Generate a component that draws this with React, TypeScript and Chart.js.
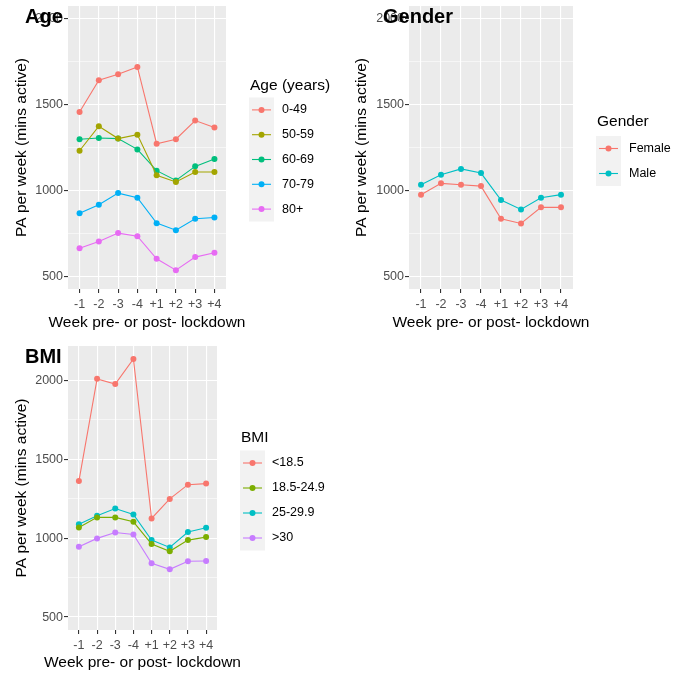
import React, { useEffect, useRef } from 'react';
import { Chart, registerables } from 'chart.js';

Chart.register(...registerables);

const FONT = "'Liberation Sans', Arial, Helvetica, sans-serif";

const weeks = ['-1', '-2', '-3', '-4', '+1', '+2', '+3', '+4'];
const yTickValues = [500, 750, 1000, 1250, 1500, 1750, 2000];
const xAxisTitle = 'Week pre- or post- lockdown';
const yAxisTitle = 'PA per week (mins active)';

const ageGroups = ['0-49', '50-59', '60-69', '70-79', '80+'];
const age0to49 = [1457, 1642, 1677, 1720, 1272, 1298, 1407, 1366];
const age50to59 = [1231, 1374, 1302, 1325, 1088, 1049, 1107, 1107];
const age60to69 = [1298, 1305, 1302, 1239, 1115, 1058, 1140, 1183];
const age70to79 = [866, 916, 984, 957, 809, 768, 835, 842];
const age80plus = [663, 702, 751, 733, 601, 535, 611, 636];
const ageColors = ['#F8766D', '#A3A500', '#00BF7D', '#00B0F6', '#E76BF3'];

const genderGroups = ['Female', 'Male'];
const female = [975, 1041, 1033, 1025, 835, 807, 901, 901];
const male = [1033, 1091, 1125, 1101, 944, 889, 957, 975];
const genderColors = ['#F8766D', '#00BFC4'];

const bmiGroups = ['<18.5', '18.5-24.9', '25-29.9', '>30'];
const bmiUnder18 = [1361, 2008, 1975, 2134, 1124, 1248, 1338, 1345];
const bmi18to25 = [1067, 1131, 1131, 1103, 962, 916, 987, 1006];
const bmi25to30 = [1088, 1141, 1187, 1149, 987, 941, 1038, 1065];
const bmiOver30 = [945, 998, 1035, 1023, 840, 802, 853, 855];
const bmiColors = ['#F8766D', '#7CAE00', '#00BFC4', '#C77CFF'];

type Panel = {
  title: string;
  legendTitle: string;
  groups: string[];
  series: number[][];
  colors: string[];
  canvas: { left: number; top: number; w: number; h: number };
  area: { l: number; t: number; r: number; b: number };
  yMin: number;
  yMax: number;
  titleX: number;
  titleY: number;
  legTitleX: number;
  legTitleY: number;
  keyX: number;
  keyW: number;
  keyTop: number;
  keyH: number;
  labelX: number;
  xTitleY: number;
  yTitleX: number;
};

const panels: Panel[] = [
  {
    title: 'Age', legendTitle: 'Age (years)', groups: ageGroups,
    series: [age0to49, age50to59, age60to69, age70to79, age80plus], colors: ageColors,
    canvas: { left: 0, top: 0, w: 340, h: 337 }, area: { l: 68, t: 6, r: 226, b: 289 },
    yMin: 425, yMax: 2075, titleX: 25, titleY: 23,
    legTitleX: 250, legTitleY: 86, keyX: 249, keyW: 25, keyTop: 97.5, keyH: 24.8, labelX: 282,
    xTitleY: 323, yTitleX: 22,
  },
  {
    title: 'Gender', legendTitle: 'Gender', groups: genderGroups,
    series: [female, male], colors: genderColors,
    canvas: { left: 340, top: 0, w: 347, h: 337 }, area: { l: 409, t: 6, r: 573, b: 289 },
    yMin: 425, yMax: 2075, titleX: 383, titleY: 23,
    legTitleX: 597, legTitleY: 122, keyX: 596, keyW: 25, keyTop: 136, keyH: 25, labelX: 629,
    xTitleY: 323, yTitleX: 362,
  },
  {
    title: 'BMI', legendTitle: 'BMI', groups: bmiGroups,
    series: [bmiUnder18, bmi18to25, bmi25to30, bmiOver30], colors: bmiColors,
    canvas: { left: 0, top: 337, w: 340, h: 337 }, area: { l: 68, t: 346, r: 217, b: 630 },
    yMin: 418, yMax: 2216, titleX: 25, titleY: 363,
    legTitleX: 241, legTitleY: 438, keyX: 240, keyW: 25, keyTop: 450.5, keyH: 25, labelX: 272,
    xTitleY: 663, yTitleX: 22,
  },
];

function PanelChart({ p }: { p: Panel }) {
  const ref = useRef<HTMLCanvasElement | null>(null);
  useEffect(() => {
    const canvas = ref.current;
    if (!canvas) return;
    const c = p.canvas;
    const yAxisW = p.area.l - c.left;
    const xAxisH = c.top + c.h - p.area.b;
    const padTop = p.area.t - c.top;
    const padRight = c.left + c.w - p.area.r;
    const titleFont = 15.5;
    const half = (titleFont * 1.2) / 2;

    const deco = {
      id: 'ggDeco',
      beforeDraw(chart: any) {
        const { ctx, chartArea } = chart;
        ctx.save();
        ctx.fillStyle = '#EBEBEB';
        ctx.fillRect(chartArea.left, chartArea.top, chartArea.right - chartArea.left, chartArea.bottom - chartArea.top);
        ctx.restore();
      },
      afterDraw(chart: any) {
        const ctx = chart.ctx;
        const ca = chart.chartArea;
        ctx.save();
        // x axis title
        ctx.fillStyle = '#000000';
        ctx.font = `${titleFont}px ${FONT}`;
        ctx.textBaseline = 'middle';
        ctx.textAlign = 'center';
        ctx.fillText(xAxisTitle, (ca.left + ca.right) / 2, p.xTitleY - c.top);
        // legend
        ctx.textAlign = 'left';
        ctx.fillText(p.legendTitle, p.legTitleX - c.left, p.legTitleY - c.top);
        const kx = p.keyX - c.left;
        const ky = p.keyTop - c.top;
        ctx.fillStyle = '#F2F2F2';
        ctx.fillRect(kx, ky, p.keyW, p.keyH * p.groups.length);
        p.groups.forEach((g, i) => {
          const cy = ky + p.keyH * (i + 0.5);
          const col = p.colors[i];
          ctx.strokeStyle = col;
          ctx.lineWidth = 1.1;
          ctx.beginPath();
          ctx.moveTo(kx + 3, cy);
          ctx.lineTo(kx + p.keyW - 3, cy);
          ctx.stroke();
          ctx.fillStyle = col;
          ctx.beginPath();
          ctx.arc(kx + p.keyW / 2, cy, 3, 0, Math.PI * 2);
          ctx.fill();
          ctx.fillStyle = '#000000';
          ctx.font = `12.5px ${FONT}`;
          ctx.fillText(g, p.labelX - c.left, cy);
        });
        // panel title
        ctx.font = `bold 20px ${FONT}`;
        ctx.textBaseline = 'alphabetic';
        ctx.fillStyle = '#000000';
        ctx.fillText(p.title, p.titleX - c.left, p.titleY - c.top);
        ctx.restore();
      },
    };

    const chart = new Chart(canvas, {
      type: 'line',
      data: {
        datasets: p.series.map((s, i) => ({
          label: p.groups[i],
          data: s.map((v, j) => ({ x: j, y: v })),
          borderColor: p.colors[i],
          backgroundColor: p.colors[i],
          borderWidth: 1.1,
          pointRadius: 3,
          pointBorderWidth: 0,
          pointBackgroundColor: p.colors[i],
          tension: 0,
          fill: false,
        })),
      },
      options: {
        animation: false,
        responsive: false,
        maintainAspectRatio: false,
        devicePixelRatio: 1,
        layout: { padding: { left: 0, top: padTop, right: padRight, bottom: 0 } },
        plugins: { legend: { display: false }, tooltip: { enabled: false }, title: { display: false } },
        scales: {
          x: {
            type: 'linear',
            min: -0.6,
            max: 7.6,
            bounds: 'data',
            afterBuildTicks: (s: any) => {
              s.ticks = weeks.map((_, i) => ({ value: i }));
            },
            afterFit: (s: any) => {
              s.height = xAxisH;
              s.paddingLeft = 0;
              s.paddingRight = 0;
            },
            ticks: {
              autoSkip: false,
              maxRotation: 0,
              padding: 4,
              color: '#4D4D4D',
              font: { family: FONT, size: 12.5 },
              callback: (v: any) => weeks[v] ?? '',
            },
            grid: {
              color: '#FFFFFF',
              lineWidth: 1.1,
              tickColor: '#333333',
              tickLength: 4,
              tickWidth: 1.1,
            },
            border: { display: false },
            title: { display: false },
          },
          y: {
            type: 'linear',
            min: p.yMin,
            max: p.yMax,
            bounds: 'data',
            afterBuildTicks: (s: any) => {
              s.ticks = yTickValues.map((v) => ({ value: v }));
            },
            afterFit: (s: any) => {
              s.width = yAxisW;
              s.paddingTop = 0;
              s.paddingBottom = 0;
            },
            ticks: {
              autoSkip: false,
              padding: 1,
              color: '#4D4D4D',
              font: { family: FONT, size: 12.5 },
              callback: (v: any) => (Number(v) % 500 === 0 ? String(v) : ''),
            },
            grid: {
              color: '#FFFFFF',
              lineWidth: (ctx: any) => (ctx.tick && ctx.tick.value % 500 === 0 ? 1.1 : 0.55),
              tickColor: (ctx: any) => (ctx.tick && ctx.tick.value % 500 === 0 ? '#333333' : 'rgba(0,0,0,0)'),
              tickLength: 4,
              tickWidth: 1.1,
            },
            border: { display: false },
            title: {
              display: true,
              text: yAxisTitle,
              color: '#000000',
              font: { family: FONT, size: titleFont },
              padding: { top: p.yTitleX - c.left - half, bottom: 0 },
            },
          },
        },
      } as any,
      plugins: [deco],
    });
    return () => chart.destroy();
  }, [p]);

  return (
    <canvas
      ref={ref}
      width={p.canvas.w}
      height={p.canvas.h}
      style={{ position: 'absolute', left: p.canvas.left, top: p.canvas.top, width: p.canvas.w, height: p.canvas.h }}
    />
  );
}

export default function App() {
  return (
    <div style={{ position: 'fixed', left: 0, top: 0, width: 687, height: 674, background: '#FFFFFF' }}>
      {panels.map((p) => (
        <PanelChart key={p.title} p={p} />
      ))}
    </div>
  );
}
